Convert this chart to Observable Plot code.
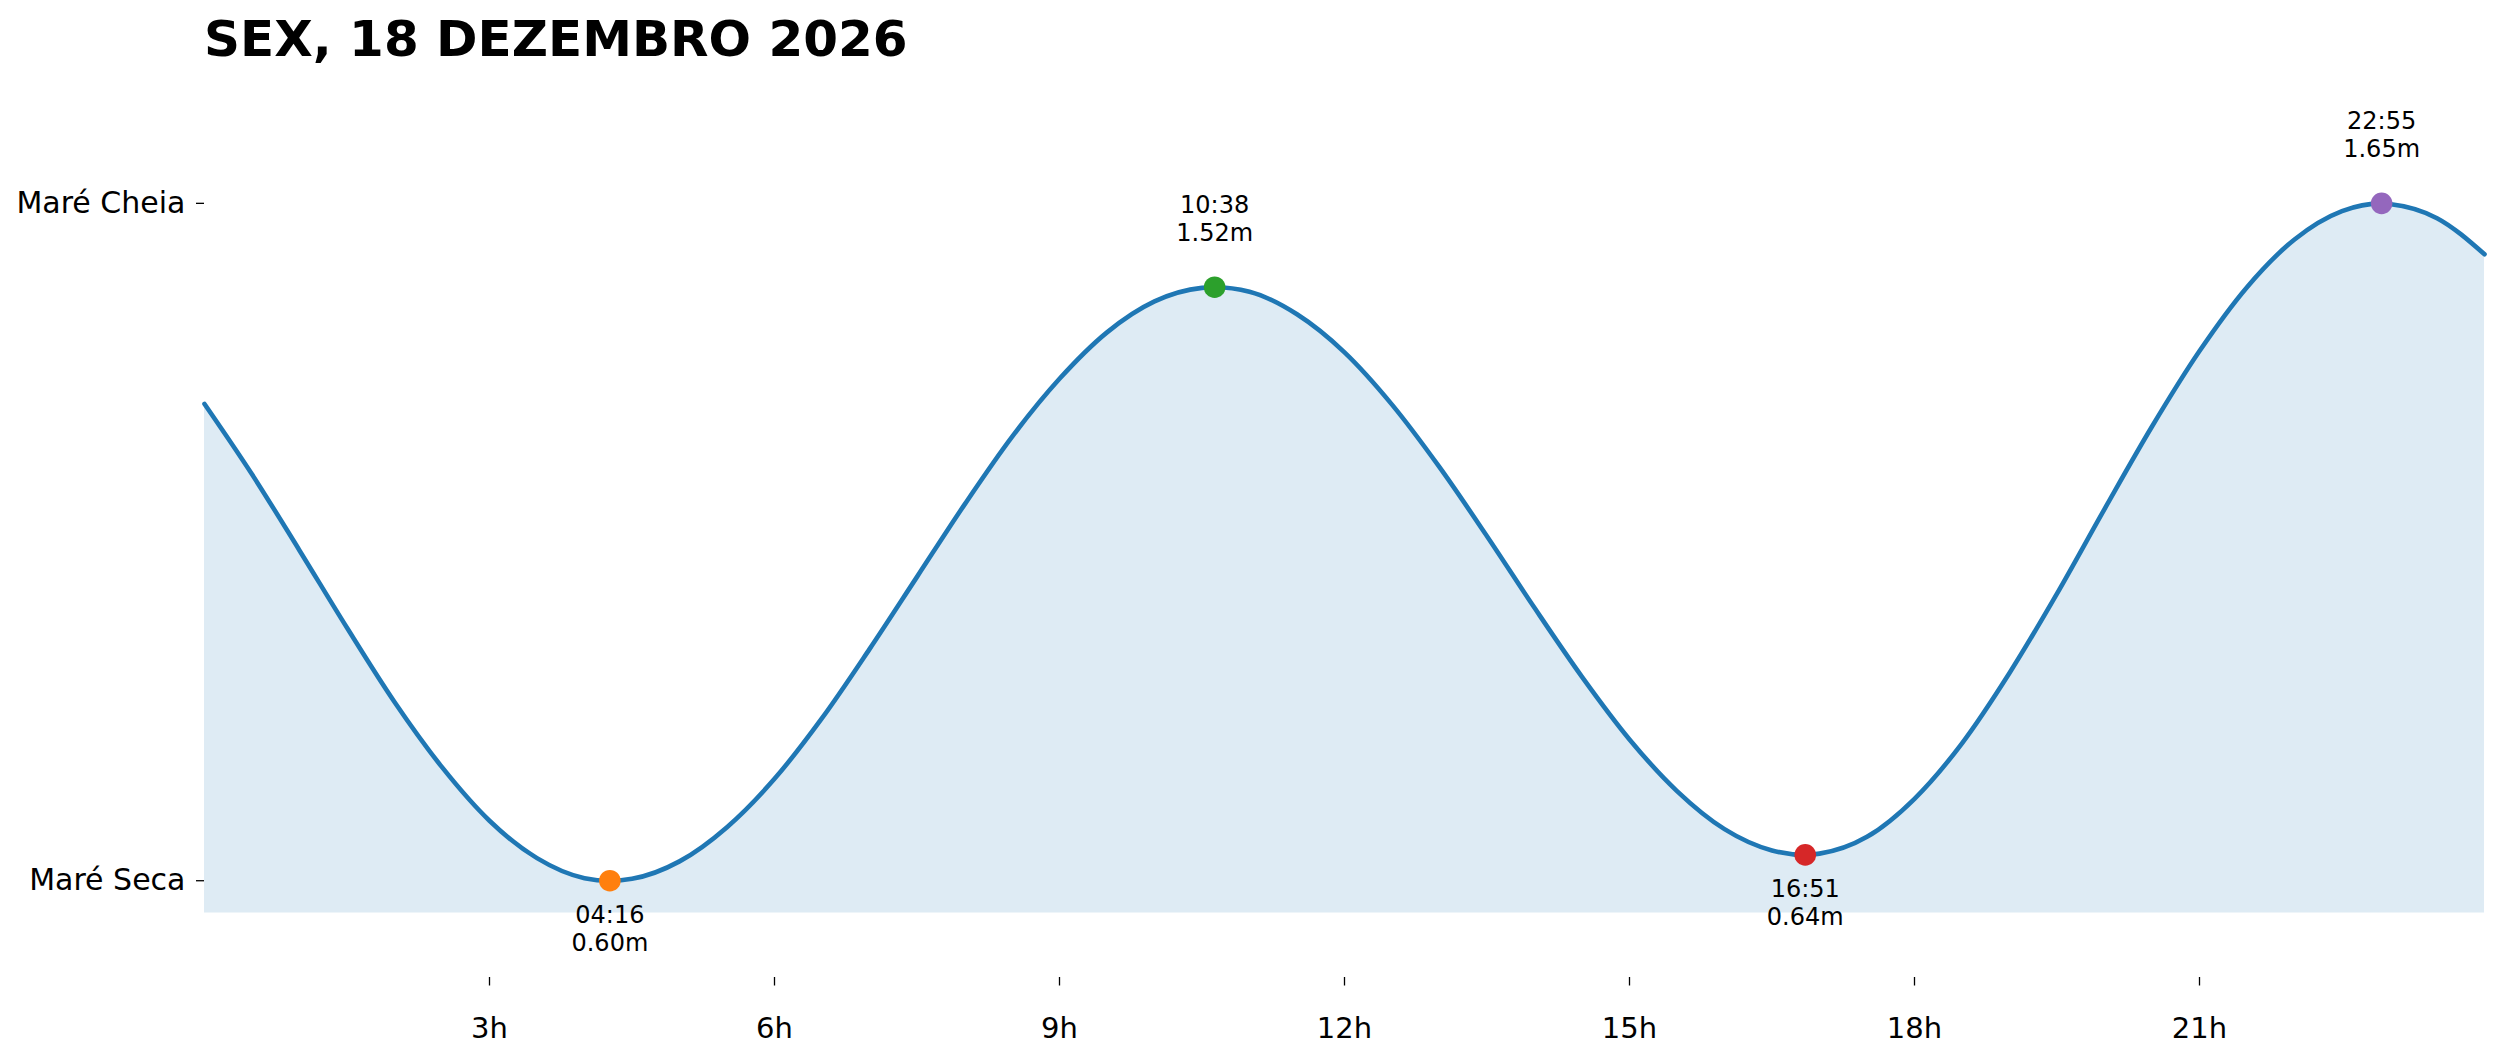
<!DOCTYPE html>
<html>
<head>
<meta charset="utf-8">
<script src="https://cdn.jsdelivr.net/npm/d3@7"></script>
<script src="https://cdn.jsdelivr.net/npm/@observablehq/plot@0.6"></script>
<style>
  body { margin: 0; background: #fff; }
  #wrap { position: relative; width: 2501px; height: 1062px; }
  #title { position: absolute; left: 204px; top: 13.6px; font: bold 50px "DejaVu Sans"; line-height: 50px; color: #000; white-space: nowrap; }
  #chart svg { display: block; }
</style>
</head>
<body>
<div id="wrap">
  <div id="chart"></div>
  <div id="title">SEX, 18 DEZEMBRO 2026</div>
</div>
<script>
// Tide curve (hours since midnight, metres)
const hours  = [0, 0.5, 1, 1.5, 2, 2.5, 3, 3.5, 4, 4.267, 4.5, 5, 5.5, 6, 6.5, 7, 7.5, 8, 8.5, 9, 9.5, 10, 10.5, 10.633,
                11, 11.5, 12, 12.5, 13, 13.5, 14, 14.5, 15, 15.5, 16, 16.5, 16.85, 17, 17.5, 18, 18.5, 19, 19.5, 20, 20.5,
                21, 21.5, 22, 22.5, 22.917, 23, 23.5, 24];
const levels = [1.339, 1.230, 1.112, 0.992, 0.877, 0.776, 0.693, 0.635, 0.604, 0.600, 0.603, 0.630, 0.683, 0.758, 0.852, 0.959, 1.071, 1.183, 1.288, 1.378, 1.450, 1.498, 1.519, 1.520,
                1.513, 1.478, 1.419, 1.338, 1.241, 1.134, 1.023, 0.916, 0.819, 0.739, 0.680, 0.647, 0.640, 0.642, 0.668, 0.727, 0.813, 0.922, 1.045, 1.176, 1.304,
                1.421, 1.520, 1.594, 1.638, 1.650, 1.649, 1.627, 1.571];

// Extremes (high / low tide)
const extremeLabels = ["04:16", "10:38", "16:51", "22:55"];
const extremeHours  = [4.267, 10.633, 16.85, 22.917];
const extremeLevels = [0.60, 1.52, 0.64, 1.65];
const extremeKinds  = ["low", "high", "low", "high"];

// Axes
const xTickValues = [3, 6, 9, 12, 15, 18, 21];
const xTickLabels = ["3h", "6h", "9h", "12h", "15h", "18h", "21h"];
const yTickValues = [0.60, 1.65];
const yTickLabels = ["Maré Seca", "Maré Cheia"];
const xDomain = [0, 24];
const yDomain = [0.45, 1.85];
const fillFloor = 0.55;

const curve = hours.map((t, i) => ({t, v: levels[i]}));
const extremes = extremeHours.map((t, i) => ({
  t, v: extremeLevels[i], kind: extremeKinds[i], key: extremeLabels[i],
  label: `${extremeLabels[i]}\n${extremeLevels[i].toFixed(2)}m`
}));

const chart = Plot.plot({
  width: 2501,
  height: 1062,
  marginLeft: 204,
  marginRight: 17,
  marginTop: 73.8,
  marginBottom: 85,
  style: {fontFamily: "DejaVu Sans", color: "#000", background: "#fff", overflow: "visible"},
  x: {domain: xDomain, axis: null},
  y: {domain: yDomain, axis: null},
  color: {domain: extremeLabels, range: ["#ff7f0e", "#2ca02c", "#d62728", "#9467bd"]},
  marks: [
    Plot.areaY(curve, {x: "t", y1: fillFloor, y2: "v", fill: "#1f77b4", fillOpacity: 0.15, curve: "monotone-x"}),
    Plot.lineY(curve, {x: "t", y: "v", stroke: "#1f77b4", strokeWidth: 4.6, curve: "monotone-x"}),
    Plot.dot(extremes, {x: "t", y: "v", fill: "key", r: 10.8}),
    Plot.text(extremes.filter(d => d.kind === "high"), {x: "t", y: "v", text: "label", lineAnchor: "bottom", dy: -46, fontSize: 24, lineHeight: 1.167, fill: "#000"}),
    Plot.text(extremes.filter(d => d.kind === "low"), {x: "t", y: "v", text: "label", lineAnchor: "bottom", dy: 70.5, fontSize: 24, lineHeight: 1.167, fill: "#000"}),
    Plot.axisX({ticks: xTickValues, tickFormat: (d) => xTickLabels[xTickValues.indexOf(d)], tickSize: 8.5, tickPadding: 31.5, fontSize: 29, stroke: "#000", strokeWidth: 1.3, fill: "#000", label: null}),
    Plot.axisY({ticks: yTickValues, tickFormat: (d) => yTickLabels[yTickValues.indexOf(d)], tickSize: 8, tickPadding: 11, fontSize: 30, stroke: "#000", strokeWidth: 1.3, fill: "#000", label: null})
  ]
});
document.getElementById("chart").appendChild(chart);
</script>
</body>
</html>
